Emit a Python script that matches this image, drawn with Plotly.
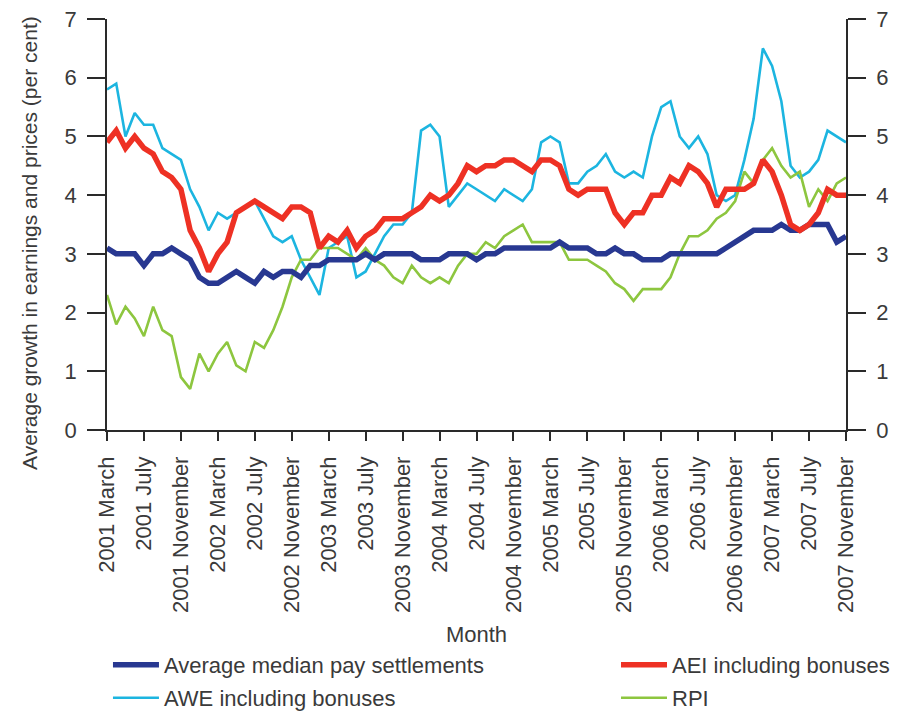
import plotly.graph_objects as go

years = [2001, 2002, 2003, 2004, 2005, 2006, 2007]
month_names = ["January", "February", "March", "April", "May", "June", "July",
               "August", "September", "October", "November", "December"]
months = [f"{y} {m}" for y in years for m in month_names]
months = months[months.index("2001 March"):months.index("2007 November") + 1]
tick_labels = months[::4]

median_pay = [3.1, 3.0, 3.0, 3.0, 2.8, 3.0, 3.0, 3.1, 3.0, 2.9, 2.6, 2.5, 2.5, 2.6, 2.7, 2.6, 2.5, 2.7, 2.6, 2.7, 2.7,
              2.6, 2.8, 2.8, 2.9, 2.9, 2.9, 2.9, 3.0, 2.9, 3.0, 3.0, 3.0, 3.0, 2.9, 2.9, 2.9, 3.0, 3.0, 3.0, 2.9,
              3.0, 3.0, 3.1, 3.1, 3.1, 3.1, 3.1, 3.1, 3.2, 3.1, 3.1, 3.1, 3.0, 3.0, 3.1, 3.0, 3.0, 2.9, 2.9, 2.9,
              3.0, 3.0, 3.0, 3.0, 3.0, 3.0, 3.1, 3.2, 3.3, 3.4, 3.4, 3.4, 3.5, 3.4, 3.4, 3.5, 3.5, 3.5, 3.2, 3.3]

aei = [4.9, 5.1, 4.8, 5.0, 4.8, 4.7, 4.4, 4.3, 4.1, 3.4, 3.1, 2.7, 3.0, 3.2, 3.7, 3.8, 3.9, 3.8, 3.7, 3.6, 3.8,
       3.8, 3.7, 3.1, 3.3, 3.2, 3.4, 3.1, 3.3, 3.4, 3.6, 3.6, 3.6, 3.7, 3.8, 4.0, 3.9, 4.0, 4.2, 4.5, 4.4,
       4.5, 4.5, 4.6, 4.6, 4.5, 4.4, 4.6, 4.6, 4.5, 4.1, 4.0, 4.1, 4.1, 4.1, 3.7, 3.5, 3.7, 3.7, 4.0, 4.0,
       4.3, 4.2, 4.5, 4.4, 4.2, 3.8, 4.1, 4.1, 4.1, 4.2, 4.6, 4.4, 4.0, 3.5, 3.4, 3.5, 3.7, 4.1, 4.0, 4.0]

awe = [5.8, 5.9, 5.0, 5.4, 5.2, 5.2, 4.8, 4.7, 4.6, 4.1, 3.8, 3.4, 3.7, 3.6, 3.7, 3.8, 3.9, 3.6, 3.3, 3.2, 3.3,
       2.9, 2.6, 2.3, 3.1, 3.2, 3.3, 2.6, 2.7, 3.0, 3.3, 3.5, 3.5, 3.7, 5.1, 5.2, 5.0, 3.8, 4.0, 4.2, 4.1,
       4.0, 3.9, 4.1, 4.0, 3.9, 4.1, 4.9, 5.0, 4.9, 4.2, 4.2, 4.4, 4.5, 4.7, 4.4, 4.3, 4.4, 4.3, 5.0, 5.5,
       5.6, 5.0, 4.8, 5.0, 4.7, 4.0, 3.9, 4.0, 4.6, 5.3, 6.5, 6.2, 5.6, 4.5, 4.3, 4.4, 4.6, 5.1, 5.0, 4.9]

rpi = [2.3, 1.8, 2.1, 1.9, 1.6, 2.1, 1.7, 1.6, 0.9, 0.7, 1.3, 1.0, 1.3, 1.5, 1.1, 1.0, 1.5, 1.4, 1.7, 2.1, 2.6,
       2.9, 2.9, 3.1, 3.1, 3.1, 3.0, 2.9, 3.1, 2.9, 2.8, 2.6, 2.5, 2.8, 2.6, 2.5, 2.6, 2.5, 2.8, 3.0, 3.0,
       3.2, 3.1, 3.3, 3.4, 3.5, 3.2, 3.2, 3.2, 3.2, 2.9, 2.9, 2.9, 2.8, 2.7, 2.5, 2.4, 2.2, 2.4, 2.4, 2.4,
       2.6, 3.0, 3.3, 3.3, 3.4, 3.6, 3.7, 3.9, 4.4, 4.2, 4.6, 4.8, 4.5, 4.3, 4.4, 3.8, 4.1, 3.9, 4.2, 4.3]

y_ticks = [0, 1, 2, 3, 4, 5, 6, 7]

FONT = "Liberation Sans, Arial, sans-serif"
TXT = "#3a3a3a"
AX = "#2a2a2a"

# (name, values, colour, width, legend, y-axis) - same 0-7 scale on both sides
series = [
    ("AWE including bonuses", awe, "#1cb5e0", 2.6, "legend3", "y"),
    ("RPI", rpi, "#8dc63f", 2.6, "legend4", "y"),
    ("Average median pay settlements", median_pay, "#283891", 5.5, "legend", "y"),
    ("AEI including bonuses", aei, "#ee3124", 5.5, "legend2", "y2"),
]

fig = go.Figure()
for name, vals, color, width, leg, yref in series:
    fig.add_trace(go.Scatter(x=months, y=vals, name=name, mode="lines",
                             line=dict(color=color, width=width), yaxis=yref,
                             legend=leg, showlegend=True, hoverinfo="x+y+name"))

def leg(x, y):
    return dict(x=x, y=y, xref="container", yref="container",
                xanchor="left", yanchor="middle", orientation="v",
                bgcolor="rgba(0,0,0,0)", borderwidth=0, itemwidth=46,
                font=dict(family=FONT, size=22, color=TXT))

yax = dict(range=[0, 7], tickvals=y_ticks, ticktext=[str(v) for v in y_ticks],
           ticks="outside", ticklen=18, tickwidth=1.5,
           tickcolor=AX, showline=True, linecolor=AX, linewidth=1.5, showgrid=False,
           zeroline=False, showticklabels=True, ticklabelstandoff=6,
           ticklabeloverflow="allow",
           tickfont=dict(family=FONT, size=22, color=TXT))

fig.update_layout(
    width=908, height=713,
    margin=dict(l=99, r=70, t=11, b=291, autoexpand=False),
    paper_bgcolor="white", plot_bgcolor="white",
    showlegend=True,
    font=dict(family=FONT, size=22, color=TXT),
    xaxis=dict(type="category", range=[0, len(months) - 1], tickvals=tick_labels,
               ticktext=tick_labels, tickangle=-90, ticks="outside", ticklen=9,
               tickwidth=1.5, tickcolor=AX, showline=True, linecolor=AX, linewidth=1.5,
               showgrid=False, zeroline=False, ticklabelstandoff=7,
               tickfont=dict(family=FONT, size=22, color=TXT),
               title=dict(text="Month", font=dict(family=FONT, size=22, color=TXT))),
    yaxis=yax,
    yaxis2=dict(**yax, overlaying="y", side="right", anchor="x"),
    legend=leg(0.1101, 0.0785),
    legend2=leg(0.6696, 0.0785),
    legend3=leg(0.1101, 0.0323),
    legend4=leg(0.6696, 0.0323),
    annotations=[dict(text="Average growth in earnings and prices (per cent)",
                      xref="paper", yref="paper", x=-0.1042, y=0.455,
                      xanchor="center", yanchor="middle", textangle=-90,
                      showarrow=False, font=dict(family=FONT, size=21, color=TXT))],
)

fig.write_html("out.html")
